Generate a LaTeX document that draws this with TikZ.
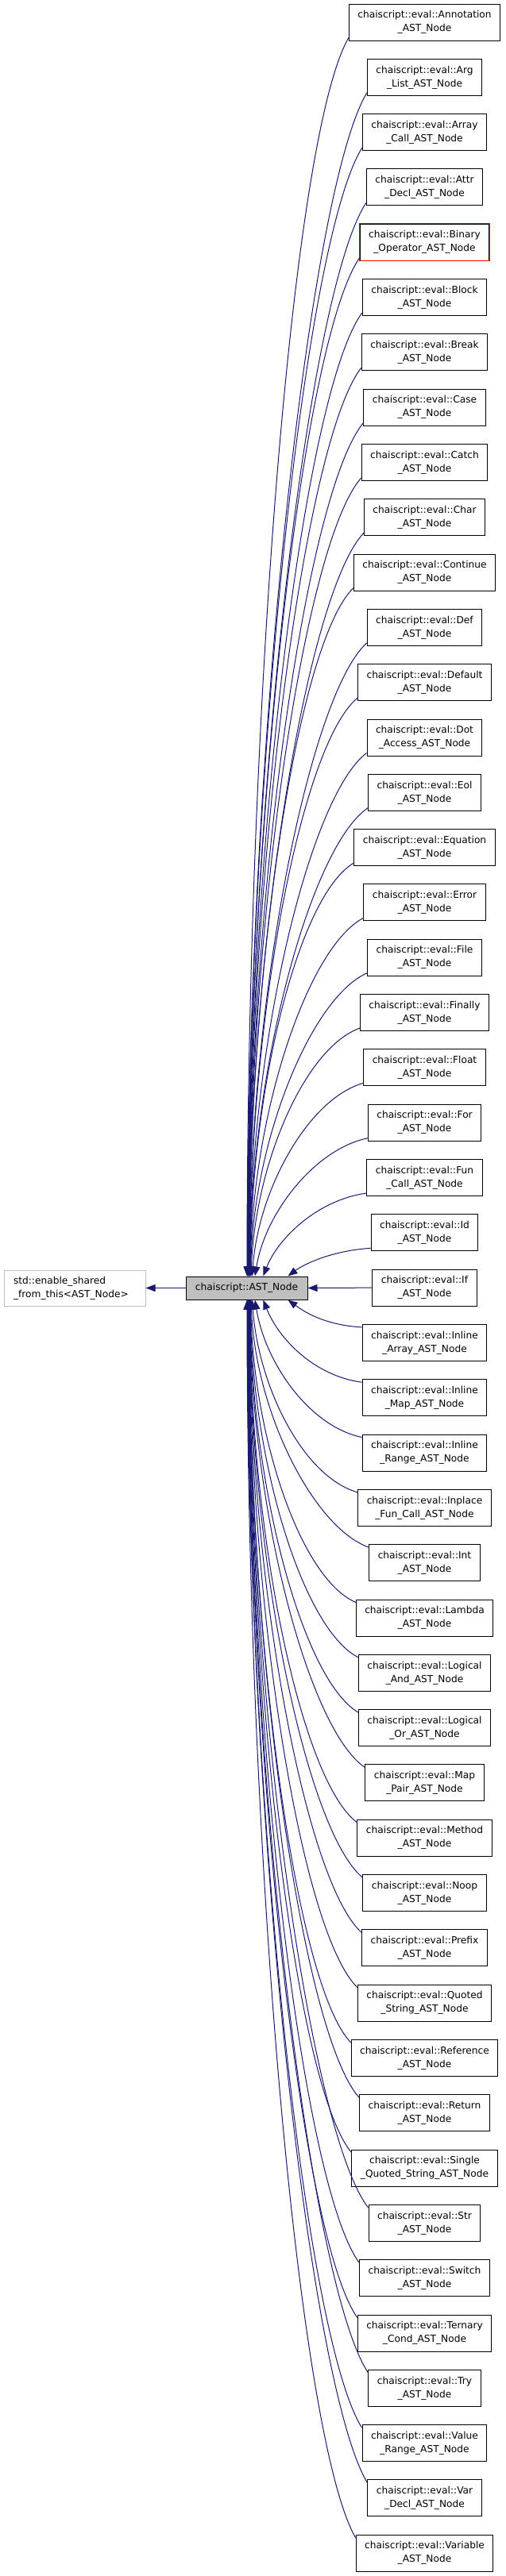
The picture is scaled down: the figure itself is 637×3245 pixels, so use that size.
\documentclass[tikz,border=0pt]{standalone}
\usepackage{fontspec}
\setmainfont{DejaVu Sans}
\usetikzlibrary{arrows.meta}
\definecolor{edgeblue}{HTML}{191970}
\definecolor{boxgray}{HTML}{BFBFBF}
\begin{document}
\begin{tikzpicture}[x=1pt,y=-1pt,
  cls/.style={draw=black, line width=1pt, fill=white, align=center,
    font=\fontsize{12.2}{17}\selectfont, inner xsep=11pt, inner ysep=0pt,
    minimum height=46pt},
  edge/.style={draw=edgeblue, line width=1pt, -{Triangle[length=12pt,width=9pt]}}]
\useasboundingbox (0,0) rectangle (637,3245);
\fill[white] (0,0) rectangle (637,3245);

\node[cls, fill=boxgray, minimum height=29pt, inner xsep=12pt] (ast) at (310.5,1622.5) {chaiscript::AST\_Node};
\node[cls, draw=boxgray, text width=154pt, align=left, inner xsep=12pt, minimum height=45pt] (base) at (94,1622.5) {std::enable\_shared\\\_from\_this<AST\_Node>};

\foreach \i/\a/\b in {
  0/Annotation/\_AST\_Node, 1/Arg/\_List\_AST\_Node, 2/Array/\_Call\_AST\_Node,
  3/Attr/\_Decl\_AST\_Node, 4/Binary/\_Operator\_AST\_Node, 5/Block/\_AST\_Node,
  6/Break/\_AST\_Node, 7/Case/\_AST\_Node, 8/Catch/\_AST\_Node, 9/Char/\_AST\_Node,
  10/Continue/\_AST\_Node, 11/Def/\_AST\_Node, 12/Default/\_AST\_Node,
  13/Dot/\_Access\_AST\_Node, 14/Eol/\_AST\_Node, 15/Equation/\_AST\_Node,
  16/Error/\_AST\_Node, 17/File/\_AST\_Node, 18/Finally/\_AST\_Node,
  19/Float/\_AST\_Node, 20/For/\_AST\_Node, 21/Fun/\_Call\_AST\_Node,
  22/Id/\_AST\_Node, 23/If/\_AST\_Node, 24/Inline/\_Array\_AST\_Node,
  25/Inline/\_Map\_AST\_Node, 26/Inline/\_Range\_AST\_Node,
  27/Inplace/\_Fun\_Call\_AST\_Node, 28/Int/\_AST\_Node, 29/Lambda/\_AST\_Node,
  30/Logical/\_And\_AST\_Node, 31/Logical/\_Or\_AST\_Node, 32/Map/\_Pair\_AST\_Node,
  33/Method/\_AST\_Node, 34/Noop/\_AST\_Node, 35/Prefix/\_AST\_Node,
  36/Quoted/\_String\_AST\_Node, 37/Reference/\_AST\_Node, 38/Return/\_AST\_Node,
  39/Single/\_Quoted\_String\_AST\_Node, 40/Str/\_AST\_Node, 41/Switch/\_AST\_Node,
  42/Ternary/\_Cond\_AST\_Node, 43/Try/\_AST\_Node, 44/Value/\_Range\_AST\_Node,
  45/Var/\_Decl\_AST\_Node, 46/Variable/\_AST\_Node} {
  \pgfmathsetmacro\cy{28+69.31*\i}
  \node[cls] (c\i) at (534.5,\cy) {chaiscript::eval::\a\\\b};
}
\draw[red, line width=1pt] (c4.south west) rectangle (c4.north east);

% upper edges
\foreach \i in {0,...,22} {
  \pgfmathsetmacro\j{23-\i}
  \pgfmathsetmacro\tx{311+0.25*(23-\j)+46*exp(-min(\j-1,8)/0.9)}
  \pgfmathsetmacro\dx{\tx-310.5}
  \pgfmathsetmacro\D{1608-(28+69.31*\i+19)}
  \pgfmathsetmacro\H{455-\tx}
  \pgfmathsetmacro\pa{-0.5*\H}
  \pgfmathsetmacro\pb{0.08*\D}
  \pgfmathsetmacro\qa{0.3*\H*exp(-min(\D,1300)/150)}
  \pgfmathsetmacro\qb{-0.45*\D}
  \draw[edge] ([yshift=4pt]c\i.south west) .. controls +(\pa,\pb) and +(\qa,\qb) .. ([xshift=\dx pt]ast.north);
}
% lower edges
\foreach \i in {24,...,46} {
  \pgfmathsetmacro\j{\i-23}
  \pgfmathsetmacro\tx{311+0.25*(23-\j)+46*exp(-min(\j-1,8)/0.9)}
  \pgfmathsetmacro\dx{\tx-310.5}
  \pgfmathsetmacro\D{(28+69.31*\i-19)-1637}
  \pgfmathsetmacro\H{455-\tx}
  \pgfmathsetmacro\pa{-0.5*\H}
  \pgfmathsetmacro\pb{-0.08*\D}
  \pgfmathsetmacro\qa{0.3*\H*exp(-min(\D,1300)/150)}
  \pgfmathsetmacro\qb{0.45*\D}
  \draw[edge] ([yshift=-4pt]c\i.north west) .. controls +(\pa,\pb) and +(\qa,\qb) .. ([xshift=\dx pt]ast.south);
}
\draw[edge] (c23.west) -- (ast.east);
\draw[edge] (ast.west) -- (base.east);
\end{tikzpicture}
\end{document}
